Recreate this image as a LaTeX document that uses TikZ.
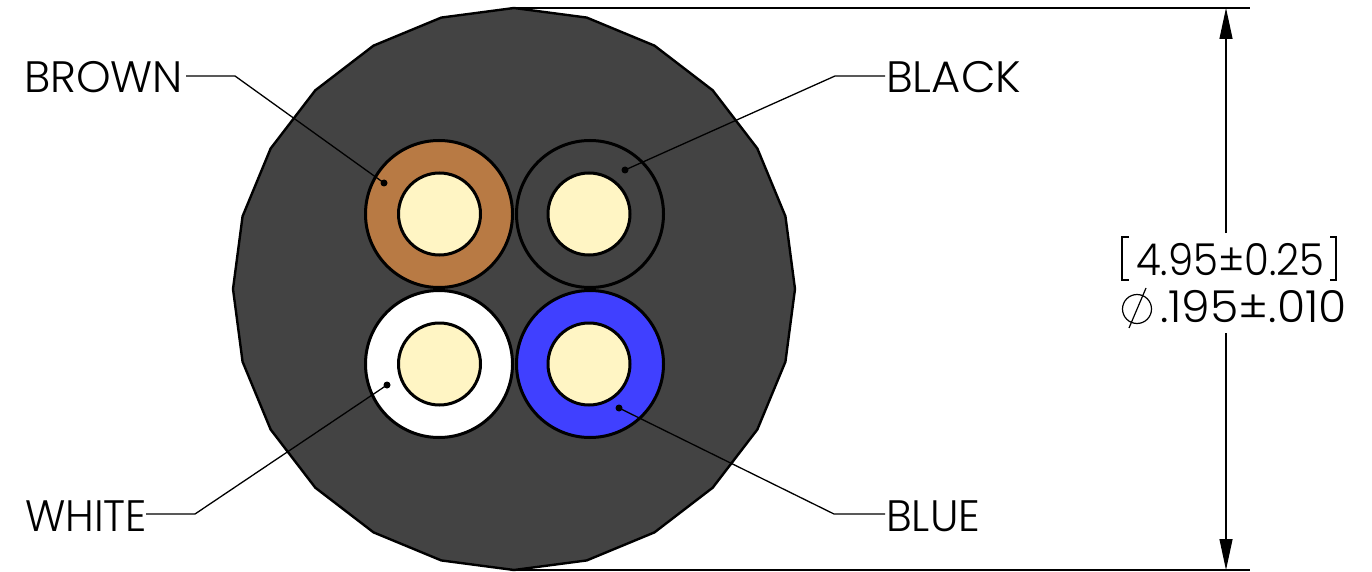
\documentclass[tikz,border=0pt]{standalone}
\usepackage{fontspec}
\usepackage{graphicx}
\setmainfont{Poppins Light}
\usetikzlibrary{arrows.meta,calc}
\definecolor{jacket}{HTML}{434343}
\definecolor{core}{HTML}{FFF5C4}
\definecolor{brownw}{HTML}{B87A44}
\definecolor{bluew}{HTML}{4040FF}
\tikzset{
  lbl/.style={font=\fontsize{44}{44}\selectfont,inner sep=0pt,anchor=base west,text=black},
  wire/.style={circle,draw=black,line width=3pt,minimum size=147pt,inner sep=0pt},
  corew/.style={circle,draw=black,line width=3pt,fill=core,minimum size=82pt,inner sep=0pt},
  leader/.style={draw=black,line width=1.3pt},
  tipdot/.style={circle,fill=black,minimum size=7pt,inner sep=0pt},
  dimline/.style={draw=black,line width=1.2pt},
  dimarrow/.style={-{Triangle[length=31pt,width=13pt]},dimline}
}
\begin{document}
\begin{tikzpicture}[x=1pt,y=-1pt]
\useasboundingbox (0,0) rectangle (1372,572);
\coordinate (cc) at (514,289);
\draw[fill=jacket,draw=black,line width=2.4pt] ($(cc)+(0:281)$)
  \foreach \a in {15,30,...,345}{ -- ($(cc)+(\a:281)$) } -- cycle;
% wires
\node[wire,fill=brownw] (brw) at (439,214) {};
\node[wire,fill=jacket] (blk) at (590,214) {};
\node[wire,fill=white] (wht) at (439,364) {};
\node[wire,fill=bluew] (blu) at (590,364) {};
\node[corew] at (439.5,214) {};
\node[corew] at (589,214) {};
\node[corew] at (439.5,364) {};
\node[corew] at (589,364) {};
% labels
\node[lbl] (lbrown) at (24,93) {BROWN};
\node[lbl] (lblack) at (886,93) {\scalebox{1.018}[1]{BLACK}};
\node[lbl] (lwhite) at (25,531) {\scalebox{0.96}[1]{WHITE}};
\node[lbl] (lblue) at (886,531) {\scalebox{0.98}[1]{BLUE}};
% tips
\node[tipdot] (tbrown) at (384,183) {};
\node[tipdot] (tblack) at (625,170) {};
\node[tipdot] (twhite) at (387,385) {};
\node[tipdot] (tblue) at (619,408) {};
\coordinate (ebrown) at (235,76);
\coordinate (eblack) at (835,76);
\coordinate (ewhite) at (195,514);
\coordinate (eblue) at (834,514);
\coordinate (sbrown) at (186,76);
\coordinate (sblack) at (885,76);
\coordinate (swhite) at (146,514);
\coordinate (sblue) at (885,514);
\draw[leader] (sbrown) -- (ebrown) -- (tbrown.center);
\draw[leader] (sblack) -- (eblack) -- (tblack.center);
\draw[leader] (swhite) -- (ewhite) -- (twhite.center);
\draw[leader] (sblue) -- (eblue) -- (tblue.center);
% dimension
\coordinate (xt0) at (514,8); \coordinate (xt1) at (1250,8);
\coordinate (xb0) at (514,570); \coordinate (xb1) at (1250,570);
\coordinate (at) at (1226,8); \coordinate (ab) at (1226,570);
\coordinate (lt) at (1226,233); \coordinate (lb) at (1226,333);
\draw[dimline] (xt0) -- (xt1);
\draw[dimline] (xb0) -- (xb1);
\draw[dimarrow] (lt) -- (at);
\draw[dimarrow] (lb) -- (ab);
\node[lbl] (dim1) at (1136,275) {\scalebox{0.915}[1]{4.95±0.25}};
\node[lbl] (dim2) at (1160,322) {\scalebox{1.04}[1]{.195±.010}};
\draw[dimline] (1129,237) -- (1122,237) -- (1122,280) -- (1129,280);
\draw[dimline] (1330,237) -- (1336,237) -- (1336,280) -- (1330,280);
\draw[dimline] (1137,309) circle[radius=14.5];
\draw[dimline] (1129,328) -- (1146,288);
\end{tikzpicture}
\end{document}
